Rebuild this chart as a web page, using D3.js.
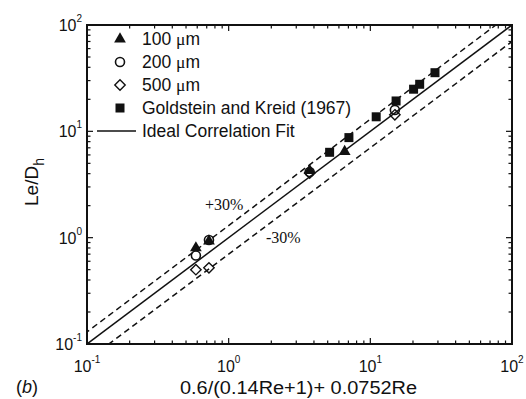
<!DOCTYPE html>
<html>
<head>
<meta charset="utf-8">
<script src="https://cdn.jsdelivr.net/npm/d3@7"></script>
<style>
  body { margin: 0; background: #fff; }
  svg { display: block; }
  text { fill: #111; }
</style>
</head>
<body>
<div id="chart"></div>
<script>
// data (x = 0.6/(0.14Re+1)+0.0752Re, y = Le/Dh)
const um100 = [[0.587, 0.80], [0.726, 0.93], [3.73, 4.27], [6.59, 6.44]];
const um200 = [[0.587, 0.68], [0.726, 0.95], [3.73, 4.15], [14.9, 15.9]];
const um500 = [[0.587, 0.50], [0.726, 0.52], [3.73, 4.05], [14.9, 14.3]];
const goldstein = [[5.16, 6.35], [7.06, 8.73], [11.0, 13.7], [15.2, 19.3],
                   [20.2, 24.9], [22.3, 27.7], [28.6, 35.6]];
const bandFactors = [1.3, 0.7];
const decades = [-1, 0, 1, 2];
const legendLabels = ['100 \u03bcm', '200 \u03bcm', '500 \u03bcm', 'Goldstein and Kreid (1967)', 'Ideal Correlation Fit'];

const W = 526, H = 399;
const pL = 87, pR = 512, pT = 25, pB = 344;
const SANS = "'Liberation Sans', Arial, Helvetica, sans-serif";
const SERIF = "'Liberation Serif', 'Times New Roman', serif";

const svg = d3.select('#chart').append('svg')
    .attr('width', W)
    .attr('height', H)
    .style('font-family', SANS);

const x = d3.scaleLog().domain([0.1, 100]).range([pL, pR]);
const y = d3.scaleLog().domain([0.1, 100]).range([pB, pT]);

// minor + major ticks on all four sides, pointing inward
const allTicks = [];
decades.slice(0, 3).forEach(function(d) {
    for (let k = 1; k < 10; k++) allTicks.push(k * Math.pow(10, d));
});
allTicks.push(100);

const tickG = svg.append('g').attr('stroke', '#111').attr('stroke-width', 1.2);
allTicks.forEach(function(v) {
    const major = Math.abs(Math.log10(v) - Math.round(Math.log10(v))) < 1e-9;
    const len = major ? 6 : 3.5;
    tickG.append('line').attr('x1', x(v)).attr('x2', x(v)).attr('y1', pB).attr('y2', pB - len);
    tickG.append('line').attr('x1', x(v)).attr('x2', x(v)).attr('y1', pT).attr('y2', pT + len);
    tickG.append('line').attr('y1', y(v)).attr('y2', y(v)).attr('x1', pL).attr('x2', pL + len);
    tickG.append('line').attr('y1', y(v)).attr('y2', y(v)).attr('x1', pR).attr('x2', pR - len);
});

// tick labels 10^n
decades.forEach(function(d) {
    const tx = svg.append('text')
        .attr('x', x(Math.pow(10, d)))
        .attr('y', 372)
        .attr('text-anchor', 'middle')
        .attr('font-size', 16);
    tx.append('tspan').text('10');
    tx.append('tspan').attr('dy', -9).attr('font-size', 10).text(d);

    const ty = svg.append('text')
        .attr('x', 82)
        .attr('y', y(Math.pow(10, d)) + 6)
        .attr('text-anchor', 'end')
        .attr('font-size', 16);
    ty.append('tspan').text('10');
    ty.append('tspan').attr('dy', -9).attr('font-size', 10).text(d);
});

// clip for lines
svg.append('clipPath').attr('id', 'plotclip')
    .append('rect').attr('x', pL).attr('y', pT)
    .attr('width', pR - pL).attr('height', pB - pT);

const lineG = svg.append('g').attr('clip-path', 'url(#plotclip)');
const ends = [0.05, 200];
const line = d3.line().x(function(d) { return x(d[0]); }).y(function(d) { return y(d[1]); });

lineG.append('path')
    .attr('d', line(ends.map(function(v) { return [v, v]; })))
    .attr('fill', 'none').attr('stroke', '#111').attr('stroke-width', 1.5);

bandFactors.forEach(function(f) {
    lineG.append('path')
        .attr('d', line(ends.map(function(v) { return [v, v * f]; })))
        .attr('fill', 'none').attr('stroke', '#111').attr('stroke-width', 1.5)
        .attr('stroke-dasharray', '6,4');
});

// markers
const tri = d3.symbol().type(d3.symbolTriangle).size(60);

function drawPoints(data, draw) {
    data.forEach(function(p) { draw(svg, x(p[0]), y(p[1])); });
}

function drawTri(g, px, py) {
    g.append('path').attr('d', tri()).attr('transform', 'translate(' + px + ',' + py + ')')
        .attr('fill', '#111');
}
function drawCircle(g, px, py) {
    g.append('circle').attr('cx', px).attr('cy', py).attr('r', 4.5)
        .attr('fill', 'none').attr('stroke', '#111').attr('stroke-width', 1.6);
}
function drawDia(g, px, py) {
    const r = 5.2;
    g.append('path').attr('d', 'M0,' + (-r) + 'L' + r + ',0L0,' + r + 'L' + (-r) + ',0Z')
        .attr('transform', 'translate(' + px + ',' + py + ')')
        .attr('fill', 'none').attr('stroke', '#111').attr('stroke-width', 1.4);
}
function drawSquare(g, px, py) {
    g.append('rect').attr('x', px - 4.5).attr('y', py - 4.5).attr('width', 9).attr('height', 9)
        .attr('fill', '#111');
}

drawPoints(um500, drawDia);
drawPoints(um100, drawTri);
drawPoints(um200, drawCircle);
drawPoints(goldstein, drawSquare);

// frame
svg.append('rect')
    .attr('x', pL).attr('y', pT)
    .attr('width', pR - pL).attr('height', pB - pT)
    .attr('fill', 'none').attr('stroke', '#111').attr('stroke-width', 2);

// legend
const legY = [39, 62, 85, 108, 131];
const drawers = [drawTri, drawCircle, drawDia, drawSquare, null];
legendLabels.forEach(function(lab, i) {
    if (drawers[i]) {
        drawers[i](svg, 120, legY[i]);
    } else {
        svg.append('line').attr('x1', 97).attr('x2', 136)
            .attr('y1', legY[i]).attr('y2', legY[i])
            .attr('stroke', '#111').attr('stroke-width', 1.5);
    }
    const t = svg.append('text').attr('x', 142).attr('y', legY[i] + 6).attr('font-size', 17.5);
    if (i < 3) {
        const parts = lab.split(' ');
        t.append('tspan').text(parts[0] + ' ');
        t.append('tspan').style('font-family', SERIF).text('\u03bc');
        t.append('tspan').text('m');
    } else {
        t.text(lab);
    }
});

// band labels
svg.append('text').attr('x', 205).attr('y', 210)
    .style('font-family', SERIF)
    .attr('font-size', 16).text('+30%');
svg.append('text').attr('x', 266).attr('y', 243)
    .style('font-family', SERIF)
    .attr('font-size', 16).text('-30%');

// axis titles
svg.append('text').attr('x', 180).attr('y', 394)
    .attr('font-size', 18)
    .attr('textLength', 237).attr('lengthAdjust', 'spacingAndGlyphs')
    .text('0.6/(0.14Re+1)+ 0.0752Re');

const yl = svg.append('text')
    .attr('transform', 'translate(38,182) rotate(-90)')
    .attr('text-anchor', 'middle').attr('font-size', 19);
yl.append('tspan').text('Le/D');
yl.append('tspan').attr('dy', 6).attr('font-size', 14).text('h');

const bl = svg.append('text').attr('x', 16).attr('y', 393).attr('font-size', 18);
bl.append('tspan').text('(');
bl.append('tspan').attr('font-style', 'italic').text('b');
bl.append('tspan').text(')');
</script>
</body>
</html>
